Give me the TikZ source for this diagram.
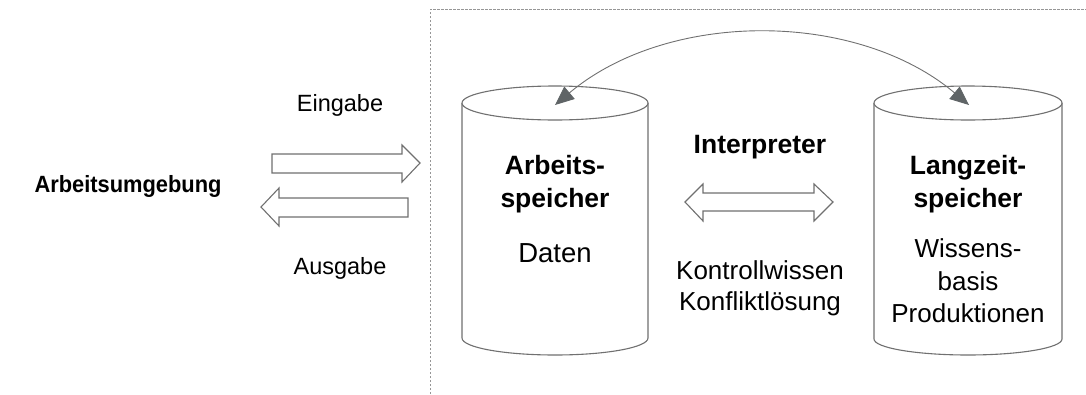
\documentclass[tikz,border=0pt]{standalone}
\usepackage{graphicx}
\usepackage{fontspec}
\setmainfont{Liberation Sans}
\usetikzlibrary{arrows.meta}
\definecolor{edge}{RGB}{112,112,112}
\definecolor{frame}{RGB}{150,150,150}
\definecolor{tipfill}{RGB}{95,100,102}
\tikzset{
  outline/.style={draw=edge, line width=1.1pt, fill=white, line join=miter},
  lbl/.style={inner sep=0pt, align=center, font=\fontsize{23.5}{32}\selectfont},
  inlbl/.style={lbl, font=\fontsize{26}{32.5}\selectfont},
  blbl/.style={lbl, font=\fontsize{23.5}{33}\selectfont\bfseries},
  inblbl/.style={lbl, font=\fontsize{26.5}{33}\selectfont\bfseries},
  link/.style={draw=edge, line width=0.9pt,
    {Triangle[length=19pt,width=16pt,fill=tipfill,color=tipfill]}-{Triangle[length=19pt,width=16pt,fill=tipfill,color=tipfill]}},
}
\begin{document}
\begin{tikzpicture}[x=1pt,y=-1pt]
\useasboundingbox (0,0) rectangle (1086,394);

% system boundary (dashed frame, open to the right and bottom)
\draw[frame, dashed, dash pattern=on 2.5pt off 1.5pt, line width=0.8pt]
  (430,394) -- (430,9) -- (1086,9);

% environment
\node[blbl] (env) at (128,186) {\scalebox{0.93}[1]{Arbeitsumgebung}};
\node[lbl] (ein) at (340,105) {Eingabe};
\node[lbl] (aus) at (340,268) {Ausgabe};

% input / output block arrows
\draw[outline] (272,154) -- (402,154) -- (402,145) -- (420,163) -- (402,182)
  -- (402,173) -- (272,173) -- cycle;
\draw[outline] (408,198) -- (279,198) -- (279,188) -- (261,207) -- (279,226)
  -- (279,217) -- (408,217) -- cycle;

% working memory cylinder
\draw[outline] (462,103) -- (462,338) arc[start angle=180, end angle=360, x radius=93, y radius=-17]
  -- (648,103);
\draw[outline] (555,103) ellipse[x radius=93, y radius=17];
\coordinate (wtop) at (555,105);

% long-term memory cylinder
\draw[outline] (874,103) -- (874,339) arc[start angle=180, end angle=360, x radius=94, y radius=-16]
  -- (1062,103);
\draw[outline] (968,103) ellipse[x radius=94, y radius=17];
\coordinate (ltop) at (969,105);

% texts in the cylinders
\node[inblbl] (ws) at (555,184) {Arbeits-\\speicher};
\node[inlbl, font=\fontsize{27.5}{32}\selectfont] (dat) at (555,253) {Daten};
\node[inblbl] (ls) at (968,184) {Langzeit-\\speicher};
\node[inlbl] (wb) at (968,281) {Wissens-\\basis\\Produktionen};

% interpreter
\node[inblbl] (int) at (760,147) {Interpreter};
\draw[outline] (685,202) -- (703,184) -- (703,193) -- (814,193) -- (814,184)
  -- (833,202) -- (814,221) -- (814,211) -- (703,211) -- (703,221) -- cycle;
\node[inlbl, font=\fontsize{26}{31}\selectfont] (kw) at (760,288) {Kontrollwissen\\Konfliktlösung};

% exchange between the two memories
\draw[link] (wtop) .. controls (668,10) and (856,10) .. (ltop);
\end{tikzpicture}
\end{document}
